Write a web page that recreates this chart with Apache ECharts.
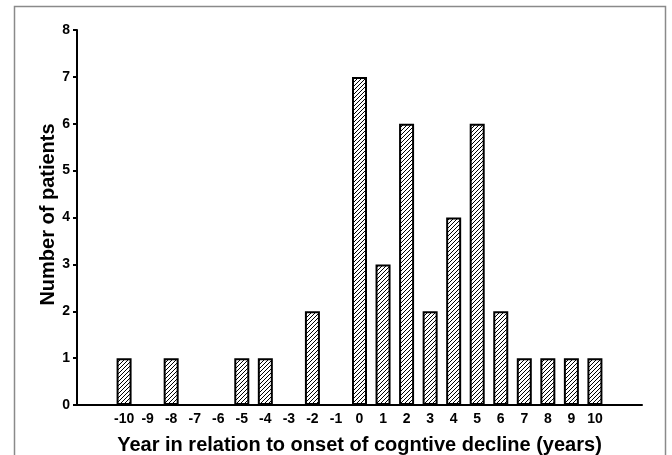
<!DOCTYPE html>
<html>
<head>
<meta charset="utf-8">
<script src="https://cdn.jsdelivr.net/npm/echarts@6/dist/echarts.min.js"></script>
<style>html,body{margin:0;padding:0;background:#fff;}#c{width:672px;height:455px;}</style>
</head>
<body>
<div id="c"></div>
<script>
const years = [-10, -8, -5, -4, -2, 0, 1, 2, 3, 4, 5, 6, 7, 8, 9, 10];
const counts = [1, 1, 1, 1, 2, 7, 3, 6, 2, 4, 6, 2, 1, 1, 1, 1];
const yTicks = [0, 1, 2, 3, 4, 5, 6, 7, 8];
const xTickLabels = [-10,-9,-8,-7,-6,-5,-4,-3,-2,-1,0,1,2,3,4,5,6,7,8,9,10];

const pat = document.createElement('canvas');
pat.width = 4; pat.height = 4;
const g = pat.getContext('2d');
g.fillStyle = '#fff'; g.fillRect(0,0,4,4);
g.strokeStyle = '#000'; g.lineWidth = 1;
g.beginPath();
g.moveTo(-1,5); g.lineTo(5,-1);
g.moveTo(-1,1); g.lineTo(1,-1);
g.moveTo(3,5); g.lineTo(5,3);
g.stroke();

const font = 'Liberation Sans, Arial, sans-serif';
const chart = echarts.init(document.getElementById('c'), null, {renderer:'canvas'});
chart.setOption({
  animation: false,
  backgroundColor: '#fff',
  graphic: [{
    type: 'rect', shape: {x: 14.5, y: 6.5, width: 651, height: 470},
    style: {fill: 'none', stroke: '#8a8a8a', lineWidth: 1.5}, silent: true
  }],
  grid: {left: 77, right: 30, top: 30, bottom: 50, containLabel: false, outerBoundsMode: 'none'},
  xAxis: {
    type: 'value', min: -12, max: 12, interval: 1,
    name: 'Year in relation to onset of cogntive decline (years)',
    nameLocation: 'middle', nameGap: 30, nameMoveOverlap: false,
    nameTextStyle: {fontFamily: font, fontWeight: 'bold', fontSize: 20, color: '#000'},
    axisLine: {show: true, onZero: false, lineStyle: {color: '#000', width: 2}},
    axisTick: {show: false},
    splitLine: {show: false},
    axisLabel: {
      fontFamily: font, fontWeight: 'bold', fontSize: 14, color: '#000', margin: 7,
      showMinLabel: true, showMaxLabel: true,
      formatter: v => xTickLabels.indexOf(v) >= 0 ? String(v) : ''
    }
  },
  yAxis: {
    type: 'value', min: 0, max: 8, interval: 1,
    name: 'Number of patients', nameLocation: 'middle', nameGap: 19, nameMoveOverlap: false,
    nameTextStyle: {fontFamily: font, fontWeight: 'bold', fontSize: 20, color: '#000', padding: [0, 0, 0, 6]},
    axisLine: {show: true, onZero: false, lineStyle: {color: '#000', width: 2}},
    axisTick: {show: true, length: 4, lineStyle: {color: '#000', width: 2}},
    splitLine: {show: false},
    axisLabel: {fontFamily: font, fontWeight: 'bold', fontSize: 14, color: '#000', margin: 7,
      formatter: v => yTicks.indexOf(v) >= 0 ? String(v) : ''}
  },
  series: [{
    type: 'bar',
    barWidth: 15,
    data: years.map((y, i) => [y, counts[i]]),
    itemStyle: {color: {image: pat, repeat: 'repeat'}, borderColor: '#000', borderWidth: 2}
  }]
});
</script>
</body>
</html>
